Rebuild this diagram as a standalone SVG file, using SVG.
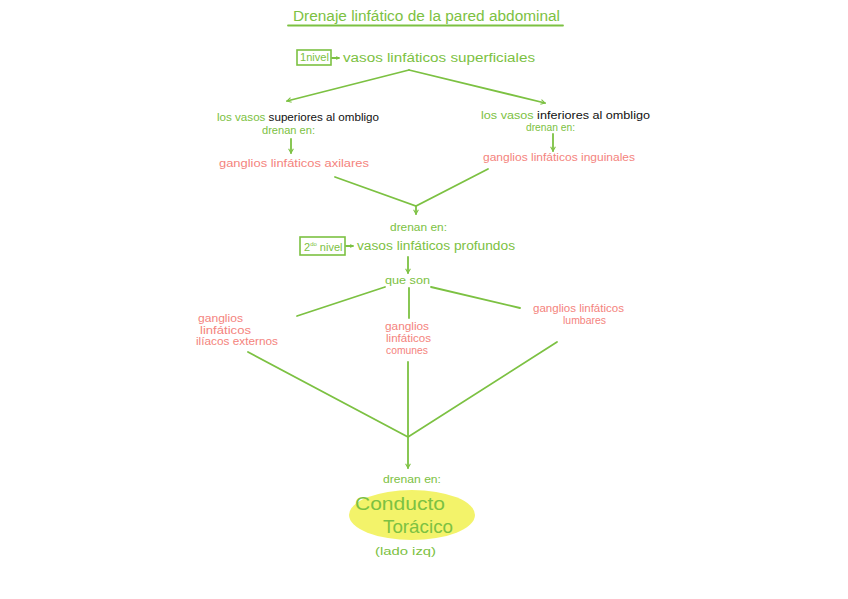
<svg xmlns="http://www.w3.org/2000/svg" width="848" height="599" viewBox="0 0 848 599">
<style>
text{font-family:"Liberation Sans",Arial,sans-serif;}
.g{fill:#7cc142;}
.p{fill:#f4837d;}
.k{fill:#111;}
.s{font-size:11px;}
.m{font-size:12px;}
.ln{stroke:#7cc142;stroke-width:1.8;fill:none;stroke-linecap:round;}
.box{stroke:#7cc142;stroke-width:1.6;fill:none;}
</style>
<defs>
<marker id="ah" viewBox="0 0 10 10" refX="8" refY="5" markerWidth="6" markerHeight="6" orient="auto-start-reverse" markerUnits="userSpaceOnUse">
<path d="M1,1 L8,5 L1,9" fill="none" stroke="#7cc142" stroke-width="1.8"/>
</marker>
<marker id="sah" viewBox="0 0 10 10" refX="8" refY="5" markerWidth="4" markerHeight="4" orient="auto" markerUnits="userSpaceOnUse">
<path d="M1,1 L8,5 L1,9" fill="none" stroke="#7cc142" stroke-width="2"/>
</marker>
</defs>
<rect width="848" height="599" fill="#fff"/>
<g id="title">
<text class="g" x="293" y="21" font-size="14" textLength="267" lengthAdjust="spacingAndGlyphs">Drenaje linfático de la pared abdominal</text>
<line x1="288" y1="25.5" x2="563" y2="25.5" class="ln"/>
</g>
<g id="nivel1">
<rect class="box" x="297" y="50" width="34" height="15"/>
<text class="g" x="300" y="61" font-size="10" textLength="29" lengthAdjust="spacingAndGlyphs">1nivel</text>
<path class="ln" d="M332,58 L339,58" stroke-width="1.4" marker-end="url(#sah)"/>
<text class="g m" x="343" y="62" textLength="192" lengthAdjust="spacingAndGlyphs">vasos linfáticos superficiales</text>
</g>
<g id="sup">
<text class="s" x="217" y="121" textLength="162" lengthAdjust="spacingAndGlyphs"><tspan class="g">los vasos </tspan><tspan class="k">superiores al ombligo</tspan></text>
<text class="g s" x="262" y="134" textLength="53" lengthAdjust="spacingAndGlyphs">drenan en:</text>
</g>
<g id="axilares">
<text class="p s" x="219" y="167" textLength="150" lengthAdjust="spacingAndGlyphs">ganglios linfáticos axilares</text>
</g>
<g id="inf">
<text class="s" x="481" y="119" textLength="169" lengthAdjust="spacingAndGlyphs"><tspan class="g">los vasos </tspan><tspan class="k">inferiores al ombligo</tspan></text>
<text class="g" x="526" y="131" font-size="10" textLength="49" lengthAdjust="spacingAndGlyphs">drenan en:</text>
</g>
<g id="inguinales">
<text class="p s" x="483" y="161" textLength="152" lengthAdjust="spacingAndGlyphs">ganglios linfáticos inguinales</text>
</g>
<g id="drenan2">
<text class="g s" x="390" y="231" textLength="57" lengthAdjust="spacingAndGlyphs">drenan en:</text>
</g>
<g id="nivel2">
<rect class="box" x="300" y="237" width="45" height="18"/>
<text class="g" x="304" y="251" font-size="11">2<tspan font-size="6" dy="-5">do</tspan><tspan dy="5"> nivel</tspan></text>
<path class="ln" d="M346,246 L353,246" stroke-width="1.4" marker-end="url(#sah)"/>
<text class="g m" x="357" y="250" textLength="158" lengthAdjust="spacingAndGlyphs">vasos linfáticos profundos</text>
</g>
<g id="queson">
<text class="g s" x="385" y="284" textLength="45" lengthAdjust="spacingAndGlyphs">que son</text>
</g>
<g id="iliacos">
<text class="p s" x="198" y="322" textLength="45" lengthAdjust="spacingAndGlyphs">ganglios</text>
<text class="p s" x="200" y="334" textLength="51" lengthAdjust="spacingAndGlyphs">linfáticos</text>
<text class="p s" x="196" y="345" textLength="82" lengthAdjust="spacingAndGlyphs">ilíacos externos</text>
</g>
<g id="comunes">
<text class="p s" x="385" y="330" textLength="44" lengthAdjust="spacingAndGlyphs">ganglios</text>
<text class="p s" x="386" y="342" textLength="45" lengthAdjust="spacingAndGlyphs">linfáticos</text>
<text class="p s" x="386" y="354" textLength="42" lengthAdjust="spacingAndGlyphs">comunes</text>
</g>
<g id="lumbares">
<text class="p s" x="533" y="312" textLength="91" lengthAdjust="spacingAndGlyphs">ganglios linfáticos</text>
<text class="p s" x="563" y="324" textLength="43" lengthAdjust="spacingAndGlyphs">lumbares</text>
</g>
<g id="drenan3">
<text class="g s" x="383" y="483" textLength="58" lengthAdjust="spacingAndGlyphs">drenan en:</text>
</g>
<g id="conducto">
<ellipse cx="412" cy="515" rx="63" ry="25" fill="#f2f25a" opacity="0.9"/>
<text class="g" x="355" y="510" font-size="19" textLength="90" lengthAdjust="spacingAndGlyphs">Conducto</text>
<text class="g" x="383" y="533" font-size="19" textLength="70" lengthAdjust="spacingAndGlyphs">Torácico</text>
<text class="g s" x="375" y="555" textLength="61" lengthAdjust="spacingAndGlyphs">(lado izq)</text>
</g>
<g id="connectors">
<path class="ln" d="M409,70 L287,101" marker-end="url(#ah)"/>
<path class="ln" d="M409,70 L545,103" marker-end="url(#ah)"/>
<path class="ln" d="M291,139 L291,153" marker-end="url(#ah)"/>
<path class="ln" d="M553,134 L553,151" marker-end="url(#ah)"/>
<path class="ln" d="M335,177 L416,206 L488,169"/>
<path class="ln" d="M416,206 L416,214" marker-end="url(#ah)"/>
<path class="ln" d="M408,257 L408,273" marker-end="url(#ah)"/>
<path class="ln" d="M385,287 L297,316"/>
<path class="ln" d="M409,288 L409,318"/>
<path class="ln" d="M431,287 L520,308"/>
<path class="ln" d="M248,352 L408,437 L557,342"/>
<path class="ln" d="M408,362 L408,468" marker-end="url(#ah)"/>
</g>
</svg>
